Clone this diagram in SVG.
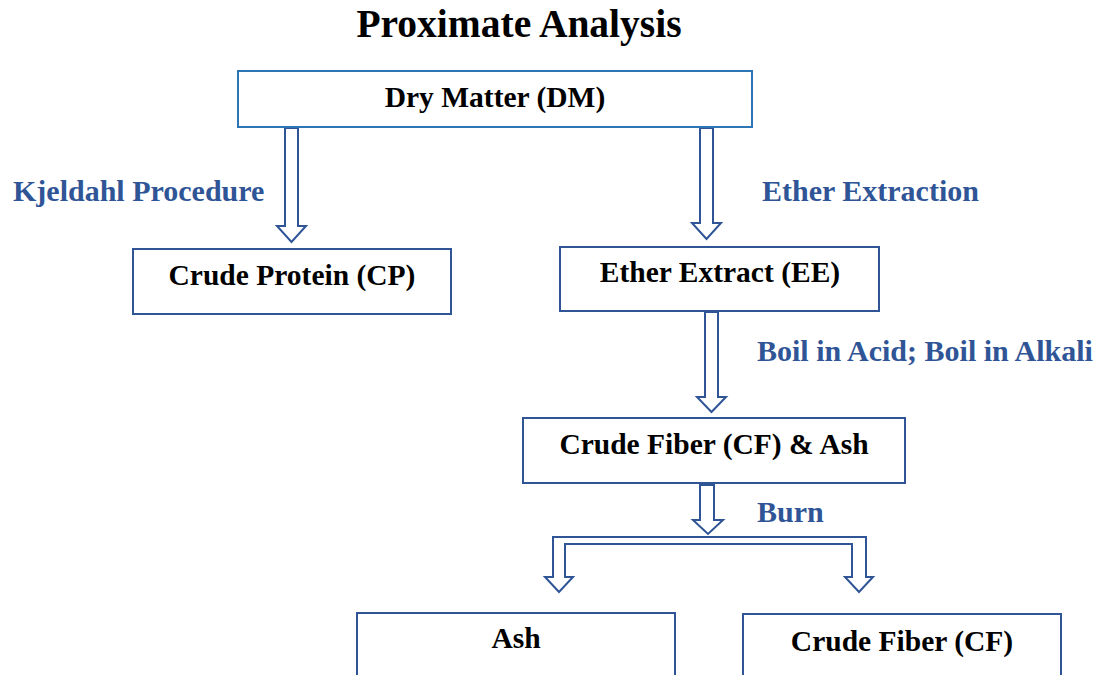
<svg xmlns="http://www.w3.org/2000/svg" width="1108" height="675" viewBox="0 0 1108 675">
<style>
text{font-family:"Liberation Serif","Times New Roman",serif;font-weight:bold}
.t{font-size:29.5px;fill:#000;text-anchor:middle}
.l{font-size:30px;fill:#2F5597}
.box{fill:#fff;stroke:#2F5597;stroke-width:2}
.arr{fill:#fff;stroke:#2F5597;stroke-width:2;stroke-linejoin:miter}
</style>
<rect width="1108" height="675" fill="#fff"/>
<text x="519" y="37" style="font-size:39.5px;text-anchor:middle">Proximate Analysis</text>
<g id="connectors">
<polygon class="arr" points="285,128 298,128 298,226 306,226 291.5,242 277,226 285,226"/>
<polygon class="arr" points="700,128 713,128 713,223 721,223 706.5,239 692,223 700,223"/>
<polygon class="arr" points="705,312 718,312 718,397 726,397 711.5,412 697,397 705,397"/>
<polygon class="arr" points="700,485 714,485 714,520 723,520 708,534 693,520 700,520"/>
<polygon class="arr" points="553,537 866,537 866,577 873,577 859,592 845,577 852,577 852,544 565,544 565,577 573,577 559,592 545,577 553,577"/>
</g>
<g id="labels">
<text class="l" x="13" y="201">Kjeldahl Procedure</text>
<text class="l" x="762" y="201">Ether Extraction</text>
<text class="l" x="757" y="361">Boil in Acid; Boil in Alkali</text>
<text class="l" x="757" y="522">Burn</text>
</g>
<g id="dm">
<rect x="238" y="71" width="514" height="56" style="fill:#fff;stroke:#2E75B6;stroke-width:2"/>
<text class="t" x="495" y="107">Dry Matter (DM)</text>
</g>
<g id="cp">
<rect class="box" x="133" y="249" width="318" height="65"/>
<text class="t" x="292" y="285">Crude Protein (CP)</text>
</g>
<g id="ee">
<rect class="box" x="560" y="247" width="319" height="64"/>
<text class="t" x="720" y="282">Ether Extract (EE)</text>
</g>
<g id="cfash">
<rect class="box" x="523" y="418" width="382" height="65"/>
<text class="t" x="714" y="454">Crude Fiber (CF) &amp; Ash</text>
</g>
<g id="ash">
<rect class="box" x="357" y="613" width="318" height="80"/>
<text class="t" x="516" y="648">Ash</text>
</g>
<g id="cf">
<rect class="box" x="743" y="614" width="318" height="80"/>
<text class="t" x="902" y="651">Crude Fiber (CF)</text>
</g>
</svg>
